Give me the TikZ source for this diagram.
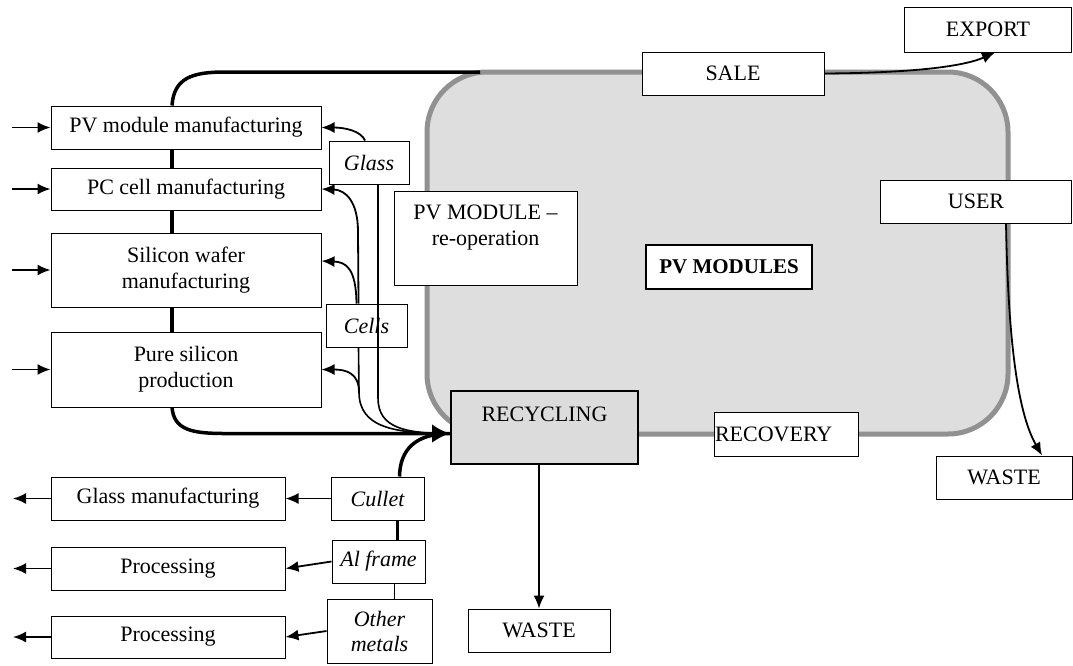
\documentclass[tikz,border=0pt]{standalone}
\usepackage{fontspec}
\setmainfont{Liberation Serif}
\usetikzlibrary{arrows.meta}
\definecolor{rimgray}{RGB}{145,145,145}
\definecolor{poolgray}{RGB}{222,222,222}
\definecolor{recgray}{RGB}{220,220,220}
\tikzset{
  box/.style={draw, line width=1pt, fill=white, inner sep=1pt, align=center},
  flow/.style={line width=3.5pt},
  link/.style={line width=1.6pt},
  arr/.style={line width=1.8pt, -{Latex[length=13pt,width=11pt]}},
  bigarr/.style={-{Latex[length=18pt,width=19pt]}},
}
\begin{document}
\begin{tikzpicture}[x=1pt, y=-1pt, font=\fontsize{22}{26}\selectfont]
  \useasboundingbox (0,0) rectangle (1073,665);

  % pool of modules
  \draw [line width=5pt, draw=rimgray, fill=poolgray, rounded corners=60pt] (427,72) rectangle (1008,434);
  \coordinate (topjoin) at (480,72);
  \coordinate (spine) at (172,0);

  % manufacturing chain
  \node (pvm) at (186,127.5) [box, minimum width=270, minimum height=43] {PV module manufacturing};
  \node (pcc) at (186,189) [box, minimum width=270, minimum height=42] {PC cell manufacturing};
  \node (swm) at (186,270) [box, minimum width=270, minimum height=74] {Silicon wafer\\manufacturing};
  \node (psp) at (186,369.5) [box, minimum width=270, minimum height=75] {Pure silicon\\production};

  % secondary processing
  \node (glm) at (168,498.5) [box, minimum width=234, minimum height=43] {Glass manufacturing};
  \node (proc1) at (168,568.5) [box, minimum width=234, minimum height=43] {Processing};
  \node (proc2) at (168,637) [box, minimum width=234, minimum height=42] {Processing};

  % recovered materials
  \node (glass) at (369,162.5) [box, minimum width=80, minimum height=43, font=\fontsize{22}{26}\selectfont\itshape] {Glass};
  \node (cells) at (366.5,325.5) [box, minimum width=81, minimum height=43, font=\fontsize{22}{26}\selectfont\itshape] {Cells};
  \node (cullet) at (377.5,498.5) [box, minimum width=93, minimum height=43, font=\fontsize{22}{26}\selectfont\itshape] {Cullet};
  \node (alframe) at (378.5,561.5) [box, minimum width=93, minimum height=43, font=\fontsize{22}{26}\selectfont\itshape] {Al frame};
  \node (others) at (379.5,631) [box, minimum width=105, minimum height=64, font=\fontsize{22}{25}\selectfont\itshape] {Other\\metals};

  % life cycle
  \node (sale) at (733,73.5) [box, minimum width=182, minimum height=43] {SALE};
  \node (export) at (988,29.5) [box, minimum width=167, minimum height=45] {EXPORT};
  \node (user) at (976,201.5) [box, minimum width=191, minimum height=43] {USER};
  \node (modules) at (729,267) [box, line width=2pt, minimum width=166, minimum height=44, font=\fontsize{21}{26}\selectfont\bfseries] {PV MODULES};
  \node (reop) at (485.5,238) [box, minimum width=183, minimum height=94] {PV MODULE --\\re-operation\\\mbox{}};
  \node (recyc) at (544.5,427.5) [box, line width=2pt, fill=recgray, minimum width=187, minimum height=73] {RECYCLING\\\mbox{}};
  \node (recov) at (786,434) [box, minimum width=144, minimum height=44, text width=142, align=left, inner xsep=0pt] {RECOVERY};
  \node (waste1) at (539,630.5) [box, minimum width=142, minimum height=43] {WASTE};
  \node (waste2) at (1004,477.5) [box, minimum width=136, minimum height=43] {WASTE};

  \coordinate (rin) at ([yshift=-6pt]recyc.west);
  \coordinate (fork) at (359,392);

  % main loop
  \draw [flow] (pvm.north -| spine) .. controls (174,78) and (192,72) .. (225,72) -- (topjoin);
  \draw [flow] (pvm.south -| spine) -- (pcc.north -| spine);
  \draw [flow] (pcc.south -| spine) -- (swm.north -| spine);
  \draw [flow] (swm.south -| spine) -- (psp.north -| spine);
  \draw [flow, bigarr] (psp.south -| spine) .. controls (174,430) and (192,433.5) .. (225,433.5) -- (rin);

  % returns from recycling
  \draw [link] ([xshift=9pt]glass.south) -- (378,398) .. controls (378,428) and (405,433.5) .. (rin);
  \draw [arr] ([xshift=-4pt]glass.north) .. controls (361,131) and (345,127.5) .. (pvm.east);
  \draw [link] ([xshift=-8pt]cells.south) -- (fork) .. controls (359,428) and (395,433.5) .. (rin);
  \draw [arr] (fork) .. controls (359,373) and (346,369.5) .. (psp.east);
  \draw [arr] ([xshift=-8pt]cells.north) -- (358,232) .. controls (358,202) and (346,190) .. (pcc.east);
  \draw [arr] ([xshift=-10pt]cells.north) .. controls (356,268) and (346,262) .. ([yshift=9pt]swm.east);
  \draw [flow] ([xshift=22pt]cullet.north) .. controls (400,450) and (415,433.5) .. (rin);
  \draw [line width=3pt] ([xshift=20pt]cullet.south) -- ([xshift=19pt]alframe.north);
  \draw [link] ([xshift=16pt]alframe.south) -- ([xshift=15pt]others.north);

  % materials out
  \draw [arr] (cullet.west) -- (glm.east);
  \draw [arr] (alframe.west) -- (proc1.east);
  \draw [arr] (others.west) -- (proc2.east);

  \coordinate (pvmin) at (12,127.5); \draw [arr] (pvmin) -- (pvm.west);
  \coordinate (pccin) at (12,189); \draw [arr] (pccin) -- (pcc.west);
  \coordinate (swmin) at (12,270); \draw [arr] (swmin) -- (swm.west);
  \coordinate (pspin) at (12,369.5); \draw [arr] (pspin) -- (psp.west);
  \coordinate (glmout) at (13,498.5); \draw [arr] (glm.west) -- (glmout);
  \coordinate (proc1out) at (13,568.5); \draw [arr] (proc1.west) -- (proc1out);
  \coordinate (proc2out) at (13,637); \draw [arr] (proc2.west) -- (proc2out);

  % life cycle
  \draw [arr, line width=1.5pt] (waste1.north |- recyc.south) -- (waste1.north);
  \draw [arr] (sale.east) .. controls (900,73) and (960,68) .. ([xshift=7pt]export.south);
  \draw [arr] ([xshift=30pt]user.south) .. controls (1008,330) and (1016,410) .. ([xshift=38pt]waste2.north);
\end{tikzpicture}
\end{document}
